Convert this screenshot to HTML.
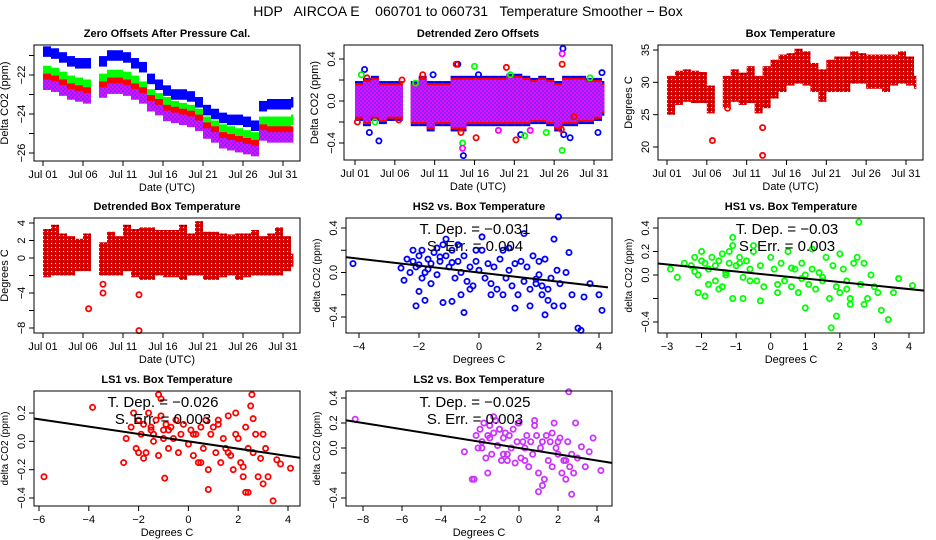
<!DOCTYPE html>
<html><head><meta charset="utf-8"><style>
html,body{margin:0;padding:0;background:#fff}
svg{display:block;font-family:"Liberation Sans",sans-serif}
</style></head><body>
<svg id="chart" width="936" height="540" viewBox="0 0 936 540" xmlns="http://www.w3.org/2000/svg">
<defs>
<pattern id="pPurple" width="4" height="4" patternUnits="userSpaceOnUse"><rect width="4" height="4" fill="#ff00ff"/><rect width="2" height="2" fill="#7030ff"/><rect x="2" y="2" width="2" height="2" fill="#7030ff"/></pattern>
<pattern id="pRed" width="4" height="4" patternUnits="userSpaceOnUse"><rect width="4" height="4" fill="#e80000"/><rect x="1" y="1" width="1.5" height="1.5" fill="#000"/><rect x="3" y="3" width="1" height="1" fill="#fff"/></pattern>
</defs>
<text x="468" y="16" text-anchor="middle" font-size="14" style="white-space:pre" xml:space="preserve">HDP   AIRCOA E    060701 to 060731   Temperature Smoother − Box</text>
</svg>
<script>
// ---------- data ----------
const dayIdx = [0,1,2,3,4,5,6,7,8,9,10,11,12,13,14,15,16,17,18,19,20,21,22,23,24,25,26,27,28,29,30,31];
const dateTickDays = [0,5,10,15,20,25,30];
const dateTickLabels = ["Jul 01","Jul 06","Jul 11","Jul 16","Jul 21","Jul 26","Jul 31"];
const hs2Zero = [-20.8,-20.9,-21.1,-21.3,-21.4,-21.4,null,-21.3,-21.0,-21.0,-21.1,-21.4,-21.6,-22.2,-22.5,-22.8,-23.0,-23.0,-23.1,-23.4,-23.8,-24.0,-24.2,-24.3,-24.3,-24.4,-24.6,-23.6,-23.5,-23.5,-23.5,-23.4];
const hs1Zero = [-21.8,-21.9,-22.1,-22.3,-22.4,-22.5,null,-22.2,-22.0,-22.0,-22.1,-22.3,-22.6,-23.0,-23.2,-23.4,-23.6,-23.7,-23.8,-24.0,-24.4,-24.6,-24.8,-24.9,-25.0,-25.1,-25.2,-24.4,-24.4,-24.4,-24.4,-24.3];
const ls1Zero = [-22.2,-22.3,-22.5,-22.7,-22.8,-22.9,null,-22.6,-22.4,-22.4,-22.5,-22.7,-22.9,-23.3,-23.5,-23.8,-23.9,-24.0,-24.1,-24.3,-24.7,-24.9,-25.2,-25.3,-25.4,-25.5,-25.6,-24.8,-24.9,-24.9,-24.9,-24.9];
const ls2Zero = [-22.5,-22.6,-22.8,-23.0,-23.1,-23.2,null,-22.9,-22.7,-22.7,-22.8,-23.0,-23.2,-23.6,-23.8,-24.1,-24.2,-24.3,-24.4,-24.6,-25.0,-25.2,-25.5,-25.6,-25.7,-25.8,-25.9,-25.1,-25.2,-25.2,-25.2,-25.2];
const detLo = [-0.15,-0.2,-0.15,-0.18,-0.15,-0.15,null,-0.2,-0.2,-0.25,-0.2,-0.2,-0.25,-0.25,-0.2,-0.2,-0.2,-0.2,-0.2,-0.2,-0.2,-0.2,-0.18,-0.18,-0.2,-0.25,-0.2,-0.2,-0.18,-0.18,-0.15,-0.1];
const detHi = [0.15,0.18,0.2,0.15,0.15,0.15,null,0.15,0.2,0.15,0.15,0.15,0.2,0.2,0.2,0.2,0.2,0.2,0.2,0.22,0.22,0.2,0.18,0.2,0.18,0.15,0.2,0.2,0.2,0.18,0.18,0.15];
const detBlueX = [1.2,1.8,3,9.8,12.9,13.6,15.5,20.8,26.1,26.2,27,30.5,31];
const detBlueY = [0.3,-0.3,-0.38,0.25,0.35,-0.52,0.25,-0.32,0.5,-0.32,-0.35,-0.3,0.27];
const detRedX = [0.3,1.5,5.5,5.9,8.5,12.7,13.3,15.2,19,20.2,25.9,26,27.5];
const detRedY = [-0.2,0.22,-0.18,0.2,0.25,0.35,-0.3,-0.35,0.32,-0.37,-0.27,0.35,-0.15];
const detGreenX = [0.8,2.5,7.6,13.5,15,19.5,21.3,24,26,29.5];
const detGreenY = [0.25,-0.2,0.17,-0.4,0.33,0.25,-0.33,-0.3,-0.47,0.22];
const detMagX = [13.5,26,18,22];
const detMagY = [-0.45,0.45,-0.28,-0.28];
const boxMin = [25,26.5,27,26.8,26.8,25.2,null,26,27,26.5,26.8,25.2,26,27.5,28.5,29.5,29.8,29.5,28.5,27,28.5,28.5,28.5,29.8,29.8,29,29,28.5,29.5,29.8,29.5,29];
const boxMax = [31,31.8,32,31.8,31.6,29.5,null,31,32,31.5,32.5,31,32.5,33.5,34.3,34.5,35.2,34.8,33,32,33.5,34,34,34.8,34.5,34.3,34.3,34.3,34.3,34.8,34,31];
const boxOutX = [5.7,7.6,12,12];
const boxOutY = [21,26,23,18.7];
const dtMin = [-2.2,-2,-2,-2,-1.5,-1.5,null,-2,-2,-2,-1.5,-2.2,-2.5,-2.5,-2,-2.2,-2.2,-2.5,-2,-2,-2.5,-2.5,-2.2,-2,-2.5,-2.2,-2,-2,-2,-2,-1.5,-1];
const dtMax = [3.3,3.8,2.8,2.5,2.2,2.8,null,1.8,3,2.5,3.8,3.3,3.5,3.5,3.2,3.2,3.2,3.8,2.8,4.2,3,3,2.8,2.7,2.8,2.8,3.2,2.5,2.8,3.5,2.5,0.5];
const dtOutX = [5.7,7.5,7.5,12,12];
const dtOutY = [-5.8,-3,-4,-4.2,-8.3];
const hs2X = [-2.2,-2.1,-2.0,-1.9,-1.8,-1.7,-1.6,-1.5,-1.4,-1.3,-1.2,-1.1,-1.0,-0.9,-0.8,-0.7,-0.6,-0.5,-0.4,-0.3,-0.2,-0.1,0,0.1,0.2,0.3,0.4,0.5,0.6,0.7,0.8,0.9,1.0,1.1,1.2,1.3,1.4,1.5,1.6,1.7,1.8,1.9,2.0,2.1,2.2,2.3,2.4,2.5,2.6,2.7,2.8,3.0,3.1,3.3,3.4,3.5,3.7,4.0,4.1,-4.2,-2.6,-2.5,-2.4,-2.1,-2.0,-1.8,-1.2,-0.9,-0.5,-0.6,0.1,1.0,1.5,2.5,2.65,2.2,1.7,0.4,-1.1,-1.9,-2.3,-1.6,-0.3,0.8,2.9,2.0,1.2,-0.1,-2.2,-1.4,-0.7,-2.0,-1.7,-1.3,-0.9,2.1,2.3,1.9];
const hs2Y = [0.1,0.05,0.15,0.2,0.0,0.12,0.08,0.18,-0.02,0.1,0.25,0.15,0.05,0.2,-0.05,0.1,0.0,0.15,-0.08,0.05,-0.12,0.1,0.02,0.2,-0.05,0.08,-0.1,0.05,-0.15,0.12,0.2,-0.05,0.02,-0.12,0.08,-0.2,0.1,-0.08,0.05,-0.15,0.15,-0.1,-0.02,-0.2,0.12,-0.25,-0.05,-0.3,0.02,-0.1,-0.3,0.18,-0.2,-0.5,-0.52,-0.22,-0.1,-0.2,-0.34,0.08,0.04,-0.07,0.12,-0.3,-0.17,-0.25,-0.27,-0.26,-0.36,-0.2,0.32,0.22,0.35,0.3,0.5,-0.38,-0.3,-0.2,0.3,-0.05,0.0,-0.1,-0.15,-0.2,0.0,0.1,-0.32,0.2,0.2,0.22,0.25,0.07,0.03,0.14,0.09,-0.12,-0.15,-0.06];
const hs1X = [-2.9,-2.7,-2.5,-2.3,-2.2,-2.1,-2.0,-1.9,-1.8,-1.7,-1.6,-1.5,-1.4,-1.3,-1.2,-1.1,-1.0,-0.9,-0.8,-0.7,-0.6,-0.5,-0.4,-0.3,-0.2,0,0.1,0.2,0.3,0.4,0.5,0.6,0.7,0.8,0.9,1.0,1.1,1.2,1.3,1.4,1.5,1.6,1.7,1.8,1.9,2.0,2.1,2.2,2.3,2.4,2.5,2.6,2.7,2.8,2.9,3.0,3.1,3.2,3.4,3.55,3.7,4.1,-2.1,-1.9,-1.5,-1.1,-0.8,-0.3,0.2,1.0,1.2,1.75,1.9,2.55,-1.1,-0.5,2.0,2.3,-2.0,-1.6,-1.2,-0.9,-1.8,-1.4,-0.6,0.6,1.5,2.2,2.7,-2.2,-1.3,0.9];
const hs1Y = [0.05,-0.02,0.1,0.08,0.15,0.0,0.2,0.1,0.05,0.15,-0.05,0.12,0.18,0.02,0.1,0.25,0.08,0.15,-0.02,0.12,0.05,0.2,-0.05,0.08,-0.1,0.15,0.05,-0.08,0.1,-0.05,0.2,-0.1,0.05,-0.15,0.1,0.0,-0.08,0.05,-0.12,0.02,-0.05,0.15,-0.2,0.08,-0.1,-0.15,0.05,-0.05,-0.2,0.1,0.15,-0.08,0.1,-0.2,0.0,-0.1,-0.15,-0.3,-0.38,-0.15,-0.03,-0.09,-0.15,-0.18,-0.12,-0.2,-0.2,-0.22,-0.15,-0.28,0.22,-0.45,-0.35,0.45,0.32,0.25,0.18,-0.25,0.12,0.08,0.2,0.1,-0.08,-0.1,-0.05,0.06,-0.02,-0.12,-0.25,0.03,0.0,-0.03];
const ls1X = [-5.8,-3.85,-2.6,-2.5,-2.3,-2.2,-2.1,-2.0,-1.9,-1.8,-1.7,-1.6,-1.5,-1.4,-1.3,-1.2,-1.1,-1.0,-0.9,-0.8,-0.7,-0.6,-0.5,-0.4,-0.3,-0.2,0,0.1,0.2,0.3,0.4,0.5,0.6,0.7,0.8,0.9,1.0,1.1,1.2,1.3,1.4,1.5,1.6,1.7,1.8,1.9,2.0,2.1,2.2,2.3,2.4,2.5,2.6,2.7,2.8,2.9,3.0,3.1,3.2,3.4,3.55,3.7,4.1,-1.2,-1.1,-0.95,0.8,2.3,2.4,2.55,2.6,3.0,-1.8,-1.4,-1.0,-2.0,-1.5,0.5,1.2,1.9,2.2,-0.8,0.2,1.6];
const ls1Y = [-0.25,0.24,-0.15,0.02,0.1,0.2,-0.05,0.15,0.05,0.12,-0.08,0.2,0.1,0.05,0.15,-0.1,0.18,0.08,0.12,-0.05,0.1,0.02,0.15,-0.08,0.05,0.12,-0.02,0.08,-0.1,0.05,-0.15,0.1,-0.05,0.15,-0.2,0.05,0.1,-0.08,0.12,-0.15,0.02,-0.05,0.18,-0.1,-0.2,0.05,0.02,-0.15,-0.18,0.1,-0.05,0.25,-0.08,0.05,-0.25,-0.12,0.05,-0.05,-0.25,-0.42,-0.13,-0.16,-0.19,0.33,0.3,-0.26,-0.34,-0.36,-0.36,0.33,0.16,-0.3,-0.12,0.0,0.02,-0.08,0.08,-0.15,0.15,0.2,-0.25,0.08,0.05,-0.08];
const ls2X = [-8.4,-2.8,-2.3,-2.2,-2.1,-2.0,-1.9,-1.8,-1.7,-1.6,-1.5,-1.4,-1.3,-1.2,-1.1,-1.0,-0.9,-0.8,-0.7,-0.6,-0.5,-0.4,-0.3,-0.2,-0.1,0,0.1,0.2,0.3,0.4,0.5,0.6,0.7,0.8,0.9,1.0,1.1,1.2,1.3,1.4,1.5,1.6,1.7,1.8,1.9,2.0,2.1,2.2,2.3,2.4,2.5,2.6,2.7,2.8,2.9,3.0,3.2,3.4,3.6,3.8,4.2,2.55,2.7,0.8,1.0,1.7,-0.05,-1.3,-1.6,-1.9,-1.0,-0.6,0.3,1.2,2.0,2.4,-2.4,-1.5,-0.8];
const ls2Y = [0.23,-0.03,-0.25,0.1,0.0,0.15,0.05,0.2,-0.08,0.1,0.18,-0.05,0.12,0.22,0.02,0.15,-0.1,0.08,0.12,-0.05,0.1,0.0,0.15,-0.12,0.05,0.2,-0.08,0.05,-0.1,0.1,-0.15,0.05,-0.05,0.22,0.1,-0.2,0.0,0.05,-0.25,0.1,-0.1,0.05,-0.15,0.2,0.0,-0.05,0.08,-0.2,-0.1,-0.25,0.05,-0.15,-0.05,-0.2,0.2,-0.08,0.01,-0.15,-0.03,0.08,-0.18,0.45,-0.37,0.18,-0.35,0.12,0.2,0.25,-0.2,0.0,0.15,-0.1,0.0,-0.3,0.05,-0.1,-0.25,0.08,-0.05,-0.08];
const slopes = [-0.031,-0.03,-0.026,-0.025];
const slopeLabels = ["−0.031","−0.03","−0.026","−0.025"];
const errLabels = ["0.004","0.003","0.003","0.003"];

// ---------- helpers ----------
const svg = document.getElementById('chart');
const NS = 'http://www.w3.org/2000/svg';
function el(tag, attrs, parent){ const e=document.createElementNS(NS,tag); for(const k in attrs) e.setAttribute(k,attrs[k]); (parent||svg).appendChild(e); return e; }
function lin(v1,p1,v2,p2){ return v=>p1+(v-v1)*(p2-p1)/(v2-v1); }
function fmt(v,d){ return v<0 ? '−'+Math.abs(v).toFixed(d) : v.toFixed(d); }

function panel(p){
  const g = el('g',{});
  
  
  const [x0,y0,x1,y1]=p.box;
  const t = el('text',{x:(x0+x1)/2,y:y0-8,'text-anchor':'middle','font-size':11,'font-weight':'bold'},g);
  t.textContent=p.title;
  
  
  const plot = el('g',{},g);
  
  
  p.draw(plot);
  const frame = el('rect',{x:x0,y:y0,width:x1-x0,height:y1-y0,fill:'none',stroke:'#000','stroke-width':1},g);
  
  
  const xa = el('g',{},g);
  
  
  const xs = p.xTicks.map(p.sx);
  el('line',{x1:xs[0],x2:xs[xs.length-1],y1:y1,y2:y1,stroke:'#000'},xa);
  p.xTicks.forEach((v,i)=>{
    el('line',{x1:xs[i],x2:xs[i],y1:y1,y2:y1+5,stroke:'#000'},xa);
    const tl=el('text',{x:xs[i],y:y1+17,'text-anchor':'middle','font-size':11},xa);
    tl.textContent=p.xLabels[i];
    
    
  });
  const xt=el('text',{x:(x0+x1)/2,y:y1+30,'text-anchor':'middle','font-size':11},g);
  xt.textContent=p.xTitle;
  
  
  const ya = el('g',{},g);
  
  
  const ys = p.yTicks.map(p.sy);
  el('line',{x1:x0,x2:x0,y1:ys[0],y2:ys[ys.length-1],stroke:'#000'},ya);
  p.yTicks.forEach((v,i)=>{
    el('line',{x1:x0-5,x2:x0,y1:ys[i],y2:ys[i],stroke:'#000'},ya);
    if(p.yLabels[i]!==''){
      const yl=el('text',{x:x0-9,y:ys[i],'text-anchor':'middle','font-size':11,transform:`rotate(-90 ${x0-9} ${ys[i]})`},ya);
      yl.textContent=p.yLabels[i];
      
      
    }
  });
  const cy=(y0+y1)/2, cx=x0-26;
  const yt=el('text',{x:cx,y:cy,'text-anchor':'middle','font-size':p.yFont||11,transform:`rotate(-90 ${cx} ${cy})`},g);
  yt.textContent=p.yTitle;
  
  
}
function dayEnd(d){ return Math.min(d+1,31.3); }
function bands(g,sx,sy,lo,hi,fill,name){
  dayIdx.forEach((d,i)=>{
    if(lo[i]==null) return;
    const a=sy(hi[i]), b=sy(lo[i]);
    const r=el('rect',{x:sx(d),y:Math.min(a,b),width:sx(dayEnd(d))-sx(d),height:Math.abs(b-a),fill:fill},g);
    
    
  });
}
function pts(g,sx,sy,X,Y,color,name){
  X.forEach((x,i)=>{
    const c=el('circle',{cx:sx(x),cy:sy(Y[i]),r:2.6,fill:'none',stroke:color,'stroke-width':1.8},g);
    
    
  });
}
function zeroBand(g,sx,sy,arr,fill,name){
  const lo=arr.map(v=>v==null?null:v-0.27), hi=arr.map(v=>v==null?null:v+0.27);
  bands(g,sx,sy,lo,hi,fill,name);
}

(function(){
  const sx=lin(0,43,30,283), sy=lin(-22,75,-26,153);
  panel({name:'zero-offsets-panel',title:'Zero Offsets After Pressure Cal.',box:[34,45,300,161],sx,sy,
    xTicks:dateTickDays,xLabels:dateTickLabels,xTitle:'Date (UTC)',
    yTicks:[-26,-25,-24,-23,-22,-21],yLabels:['−26','','−24','','−22',''],yTitle:'Delta CO2 (ppm)',
    draw:g=>{ zeroBand(g,sx,sy,hs2Zero,'#0000ff','hs2-band'); zeroBand(g,sx,sy,hs1Zero,'#00ff00','hs1-band');
      zeroBand(g,sx,sy,ls1Zero,'#ff0000','ls1-band'); zeroBand(g,sx,sy,ls2Zero,'url(#pPurple)','ls2-band'); }});
})();
(function(){
  const sx=lin(0,355,30,594), sy=lin(0.4,59,-0.4,143);
  panel({name:'detrended-offsets-panel',title:'Detrended Zero Offsets',box:[344,45,612,160],sx,sy,
    xTicks:dateTickDays,xLabels:dateTickLabels,xTitle:'Date (UTC)',
    yTicks:[-0.4,-0.2,0,0.2,0.4],yLabels:['−0.4','','0.0','','0.4'],yTitle:'Delta CO2 (ppm)',
    draw:g=>{
      bands(g,sx,sy,detLo.map(v=>v==null?null:v-0.04),detHi.map(v=>v==null?null:v+0.04),'#0000ff','hs2-band');
      bands(g,sx,sy,detLo.map(v=>v==null?null:v-0.02),detHi.map(v=>v==null?null:v+0.02),'#ff0000','ls1-band');
      bands(g,sx,sy,detLo,detHi,'url(#pPurple)','ls2-band');
      pts(g,sx,sy,detBlueX,detBlueY,'#0000ff','hs2-point'); pts(g,sx,sy,detRedX,detRedY,'#ff0000','ls1-point');
      pts(g,sx,sy,detGreenX,detGreenY,'#00ff00','hs1-point'); pts(g,sx,sy,detMagX,detMagY,'#ff00ff','ls2-point'); }});
})();
(function(){
  const sx=lin(0,667,30,906), sy=lin(35,50,20,147);
  panel({name:'box-temperature-panel',title:'Box Temperature',box:[658,45,923,160],sx,sy,
    xTicks:dateTickDays,xLabels:dateTickLabels,xTitle:'Date (UTC)',
    yTicks:[20,25,30,35],yLabels:['20','25','30','35'],yTitle:'Degrees C',
    draw:g=>{ bands(g,sx,sy,boxMin,boxMax,'url(#pRed)','temp-band'); pts(g,sx,sy,boxOutX,boxOutY,'#ff0000','temp-outlier'); }});
})();
(function(){
  const sx=lin(0,43,30,283), sy=lin(4,223,-8,328);
  panel({name:'detrended-temperature-panel',title:'Detrended Box Temperature',box:[34,218,300,333],sx,sy,
    xTicks:dateTickDays,xLabels:dateTickLabels,xTitle:'Date (UTC)',
    yTicks:[-8,-6,-4,-2,0,2,4],yLabels:['−8','','−4','','0','2','4'],yTitle:'Degrees C',
    draw:g=>{ bands(g,sx,sy,dtMin,dtMax,'url(#pRed)','temp-band'); pts(g,sx,sy,dtOutX,dtOutY,'#ff0000','temp-outlier'); }});
})();
function scatter(cfg,k){
  const {sx,sy}=cfg;
  panel({name:cfg.name,title:cfg.title,box:cfg.box,sx,sy,xTicks:cfg.xTicks,xLabels:cfg.xTicks.map(v=>fmt(v,0)),
    xTitle:'Degrees C',yTicks:cfg.yTicks,yLabels:cfg.yLabels,yTitle:'delta CO2 (ppm)',yFont:10,
    draw:g=>{
      pts(g,sx,sy,cfg.X,cfg.Y,cfg.color,'scatter-point');
      const xa=cfg.xr[0], xb=cfg.xr[1];
      const ln=el('line',{x1:sx(xa),y1:sy(slopes[k]*xa),x2:sx(xb),y2:sy(slopes[k]*xb),stroke:'#000','stroke-width':2},g);
      
      
      const cx=(cfg.box[0]+cfg.box[2])/2-4;
      const t1=el('text',{x:cx,y:cfg.box[1]+16,'text-anchor':'middle','font-size':15},g);
      t1.textContent='T. Dep. =  '+slopeLabels[k];
      
      
      const t2=el('text',{x:cx,y:cfg.box[1]+33,'text-anchor':'middle','font-size':15},g);
      t2.textContent='S. Err. =  '+errLabels[k];
      
      
    }});
}
scatter({name:'hs2-scatter-panel',title:'HS2 vs. Box Temperature',box:[346,218,612,333],sx:lin(-4,359,4,599),sy:lin(0.4,228,-0.4,317),
  xTicks:[-4,-2,0,2,4],yTicks:[-0.4,-0.2,0,0.2,0.4],yLabels:['−0.4','','0.0','','0.4'],X:hs2X,Y:hs2Y,color:'#0000ff',xr:[-4.45,4.3]},0);
scatter({name:'hs1-scatter-panel',title:'HS1 vs. Box Temperature',box:[658,218,924,333],sx:lin(-3,667,4,909),sy:lin(0.4,228,-0.4,322),
  xTicks:[-3,-2,-1,0,1,2,3,4],yTicks:[-0.4,-0.2,0,0.2,0.4],yLabels:['−0.4','','0.0','0.2','0.4'],X:hs1X,Y:hs1Y,color:'#00ff00',xr:[-3.26,4.44]},1);
scatter({name:'ls1-scatter-panel',title:'LS1 vs. Box Temperature',box:[34,391,300,506],sx:lin(-6,39,4,288),sy:lin(0.2,413,-0.4,498),
  xTicks:[-6,-4,-2,0,2,4],yTicks:[-0.4,-0.2,0,0.2],yLabels:['−0.4','−0.2','0.0','0.2'],X:ls1X,Y:ls1Y,color:'#ff0000',xr:[-6.2,4.5]},2);
scatter({name:'ls2-scatter-panel',title:'LS2 vs. Box Temperature',box:[346,391,612,506],sx:lin(-8,363,4,597),sy:lin(0.4,398,-0.4,498),
  xTicks:[-8,-6,-4,-2,0,2,4],yTicks:[-0.4,-0.2,0,0.2,0.4],yLabels:['−0.4','','0.0','0.2','0.4'],X:ls2X,Y:ls2Y,color:'#cc33ff',xr:[-8.85,4.75]},3);
</script>
</body></html>
